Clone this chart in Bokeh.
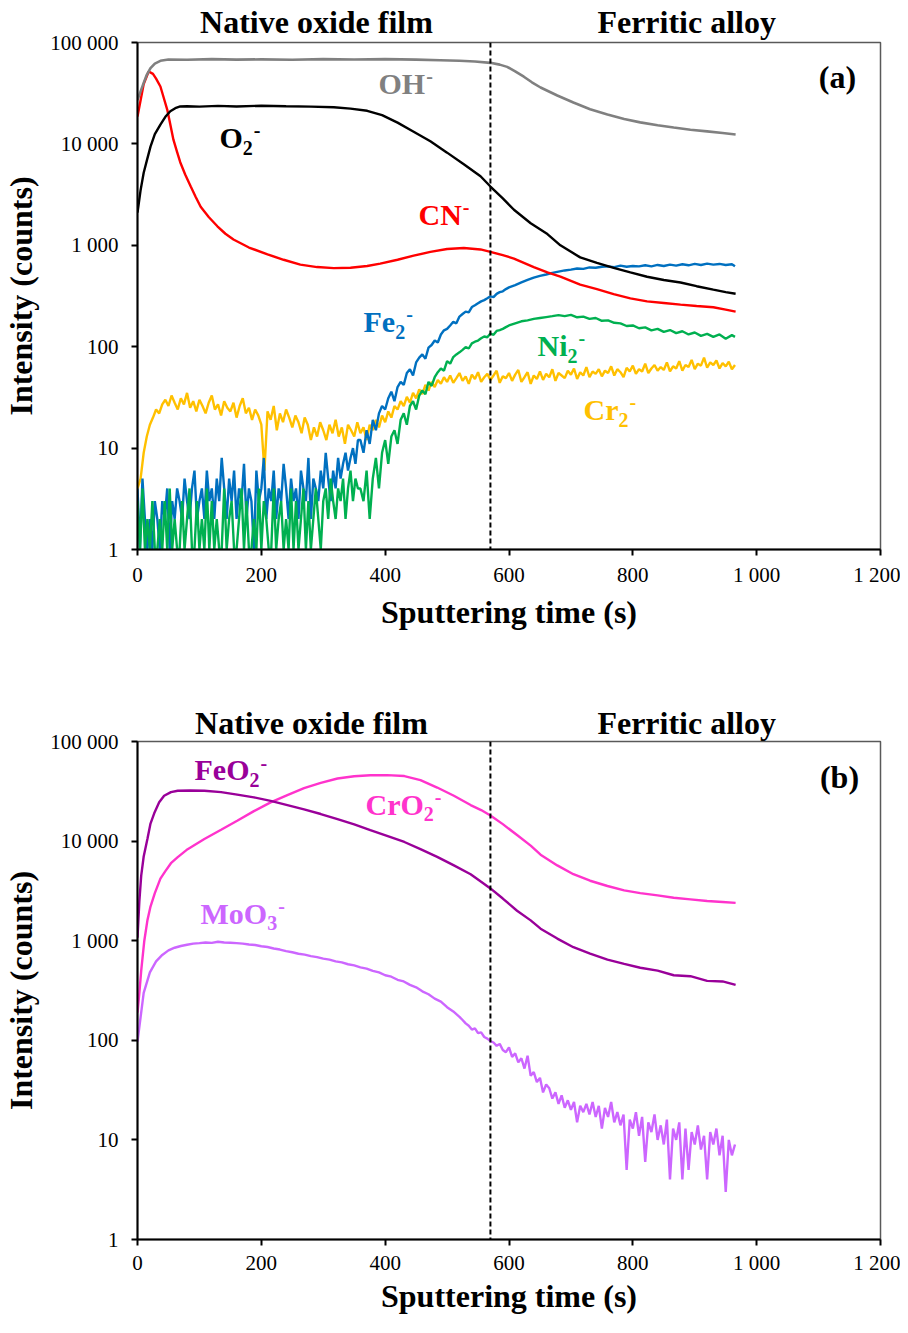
from bokeh.plotting import figure
from bokeh.models import FixedTicker, CustomJSTickFormatter, Span, Label, LinearAxis
from bokeh.layouts import column
from bokeh.embed import file_html
from bokeh.resources import INLINE

# ---------------- DATA (panel a) ----------------
boundary_t = 570
header_names = ["Native oxide film", "Ferritic alloy"]
header_t_a = [289, 887]
header_t_b = [281, 887]

t_oh = [0, 5, 10, 15, 21, 28, 37, 50, 80, 120, 160, 200, 250, 300, 350, 400, 450, 489, 520, 545,
        570, 585, 597, 610, 624, 637, 651, 678, 704, 731, 759, 786, 812, 840, 866, 893, 920, 945, 966]
oh = [27000, 33000, 40000, 48000, 56000, 62000, 66000, 68000, 67500, 68500, 67800, 68200, 67600, 68500,
      68000, 68600, 67800, 66800, 66000, 65000, 63000, 60500, 57500, 52000, 46000, 40500, 36000, 30000,
      25600, 22000, 19500, 17600, 16300, 15300, 14500, 13800, 13300, 12800, 12400]

t_o2 = [0, 5, 10, 16, 21, 28, 37, 45, 53, 61, 69, 80, 100, 130, 160, 200, 240, 280, 317, 344,
        371, 395, 420, 446, 473, 500, 527, 554, 570, 590, 608, 635, 662, 683, 715, 742, 769, 796, 823, 850,
        877, 903, 930, 950, 966]
o2 = [2100, 3500, 5200, 7200, 9400, 12500, 15500, 18500, 21000, 22500, 23400, 23500, 23300, 23700, 23400,
      23800, 23500, 23300, 23000, 22300, 21200, 19200, 16200, 13200, 10600, 8200, 6300, 4800, 3800, 2900,
      2240, 1650, 1290, 1000, 760, 670, 600, 540, 490, 455, 430, 395, 365, 345, 333]

t_cn = [0, 5, 10, 18, 25, 30, 37, 42, 48, 53, 58, 64, 69, 77, 86, 94, 102, 115, 129, 142,
        155, 180, 210, 236, 263, 290, 317, 344, 371, 392, 420, 446, 473, 500, 527, 554, 570, 590, 608, 640,
        662, 683, 715, 742, 769, 796, 823, 850, 877, 903, 930, 950, 966]
cn = [18600, 27000, 39000, 51800, 49000, 44000, 36800, 29000, 21800, 15500, 11000, 8300, 6600, 5000, 3800,
      3000, 2400, 1900, 1540, 1300, 1140, 950, 815, 720, 645, 610, 595, 600, 625, 660, 720, 790, 860, 920,
      940, 910, 860, 800, 740, 610, 540, 490, 410, 370, 330, 300, 280, 270, 260, 252, 245, 232, 222]

t_noisy = list(range(0, 360, 4)) + list(range(360, 600, 5)) + list(range(600, 961, 10)) + [965]
fe2 = [4, 1, 5, 2, 1, 2, 1, 3, 2, 1, 3, 2, 4, 1, 3, 2, 4, 3, 2, 5,
       3, 2, 4, 6, 2, 3, 4, 2, 6, 3, 4, 2, 5, 3, 8, 4, 2, 5, 3, 6,
       2, 4, 3, 7, 2, 4, 3, 1, 6, 3, 4, 8, 2, 4, 3, 6, 2, 4, 3, 7,
       4, 2, 5, 3, 4, 2, 6, 4, 3, 8, 2, 5, 4, 3, 6, 4, 9, 5, 3, 6,
       4, 8, 5, 7, 9, 6, 8, 10, 7, 12,
       12, 9, 15, 11, 19, 15, 22, 26, 24, 31, 36, 29, 40, 45, 42, 55, 60, 52, 70, 78,
       84, 76, 98, 104, 115, 110, 132, 145, 150, 162, 176, 170, 198, 210, 222, 218, 246, 256, 268, 280,
       288, 300, 314, 308, 332, 345, 352, 370,
       385, 405, 430, 455, 480, 500, 515, 535, 550, 565, 575, 590, 585, 605, 600, 615, 620, 610, 630, 615,
       625, 620, 635, 620, 640, 625, 645, 630, 650, 635, 655, 640, 660, 645, 655, 640, 650,
       620]
ni2 = [3, 1, 4, 1, 2, 1, 3, 1, 1, 2, 1, 3, 1, 4, 1, 2, 1, 1, 3, 1,
       2, 4, 1, 1, 3, 1, 2, 1, 4, 1, 3, 1, 2, 1, 1, 4, 1, 2, 3, 1,
       1, 2, 4, 1, 3, 1, 1, 2, 1, 4, 1, 3, 2, 1, 1, 4, 1, 2, 3, 1,
       2, 1, 4, 1, 3, 1, 2, 4, 1, 3, 1, 2, 4, 2, 1, 3, 4, 2, 5, 3,
       2, 4, 3, 5, 2, 4, 6, 3, 5, 4,
       4, 3, 6, 2, 5, 8, 4, 9, 12, 7, 13, 15, 11, 19, 22, 17, 26, 29, 24, 33,
       37, 34, 45, 41, 50, 56, 61, 58, 72, 68, 79, 84, 88, 93, 99, 96, 108, 112, 115, 121,
       126, 124, 135, 131, 143, 146, 150, 156,
       162, 170, 178, 182, 188, 192, 196, 200, 205, 200, 206, 195, 198, 188, 192, 180, 182, 172, 170, 160,
       162, 152, 155, 145, 150, 140, 146, 136, 142, 132, 138, 128, 134, 125, 132, 120, 130,
       125]

t_cr2 = list(range(0, 966, 5))
cr2 = [4, 5, 9, 13, 17, 20, 24, 22, 27, 30, 26, 33, 28, 24, 31, 27, 35, 25, 29, 23,
       30, 26, 22, 28, 33, 24, 27, 21, 29, 25, 23, 28, 20, 26, 31, 22, 25, 19, 24, 21,
       17, 6, 23, 19, 26, 15, 22, 18, 24, 20, 16, 21, 18, 14, 20, 17, 12, 16, 13, 18,
       15, 12, 17, 14, 19, 13, 16, 11, 17, 15, 13, 18, 14, 16, 12, 17, 15, 19, 16, 21,
       18, 23, 20, 26, 24, 29, 26, 32, 28, 35, 31, 38, 34, 42, 37, 45, 40, 47, 43, 50,
       45, 52, 44, 49, 55, 46, 51, 43, 53, 48, 56, 45, 50, 54, 47, 52, 58, 44, 51, 49,
       55, 46, 53, 59, 45, 50, 56, 43, 52, 48, 57, 47, 54, 50, 60, 46, 55, 52, 49, 58,
       53, 61, 48, 56, 52, 63, 50, 57, 54, 60, 51, 58, 55, 64, 52, 60, 56, 50, 62, 57,
       65, 54, 60, 57, 68, 55, 61, 66, 58, 63, 59, 70, 57, 64, 61, 72, 58, 66, 63, 74,
       60, 68, 65, 78, 62, 70, 66, 73, 61, 69, 64, 71, 60, 66]

# ---------------- DATA (panel b) ----------------
t_feo2 = [0, 3, 6, 10, 16, 21, 27, 35, 43, 54, 65, 85, 108, 135, 161, 188, 215, 242, 269, 296,
          323, 350, 376, 403, 431, 457, 484, 511, 538, 555, 570, 590, 613, 635, 651, 678, 704, 731, 759, 786,
          812, 840, 866, 893, 920, 945, 966]
feo2 = [1070, 2500, 4500, 7000, 10500, 15000, 19000, 24500, 28500, 31000, 32000, 32200, 32000, 31000, 29300,
        27500, 25300, 23000, 20800, 18700, 16600, 14700, 12900, 11300, 9800, 8300, 6950, 5700, 4650, 3900,
        3350, 2650, 2000, 1600, 1320, 1050, 860, 740, 645, 585, 535, 500, 450, 440, 395, 390, 360]

t_cro2 = [0, 3, 6, 11, 16, 21, 28, 37, 45, 54, 65, 81, 108, 135, 161, 188, 215, 242, 269, 296,
          323, 350, 376, 403, 431, 457, 484, 511, 538, 555, 570, 590, 613, 635, 651, 678, 704, 731, 759, 786,
          812, 840, 866, 893, 920, 945, 966]
cro2 = [190, 300, 500, 1000, 1600, 2200, 3000, 4200, 5000, 6000, 6900, 8300, 10500, 13000, 16000, 20000,
        24500, 29000, 34000, 38500, 42500, 44800, 45800, 46000, 45000, 41000, 34500, 28500, 23000, 20500,
        18100, 14800, 11500, 9000, 7300, 5700, 4650, 4000, 3540, 3200, 3000, 2850, 2700, 2600, 2500, 2450,
        2400]

t_moo3 = list(range(0, 521, 10)) + list(range(525, 966, 5))
moo3 = [97, 300, 480, 620, 720, 800, 850, 885, 910, 935, 945, 960, 950, 975, 960, 955, 945, 935, 915, 905,
        880, 865, 835, 815, 785, 765, 740, 725, 700, 685, 660, 645, 620, 605, 580, 565, 540, 525, 498, 480,
        450, 435, 405, 390, 360, 340, 310, 290, 262, 245, 215, 195, 172,
        160, 148, 140, 128, 132, 118, 120, 108, 104, 98, 95, 88, 92, 80, 76, 85, 68, 74, 60, 66,
        52, 70, 44, 48, 38, 42, 30, 36, 33, 26, 30, 23, 28, 21, 25, 20, 24, 15, 22, 19,
        23, 18, 24, 17, 22, 13, 21, 17, 24, 15, 19, 14, 18, 5, 16, 13, 19, 11, 17, 6,
        15, 12, 18, 10, 14, 9, 16, 4, 13, 10, 15, 4, 13, 5, 12, 9, 14, 8, 11, 4,
        12, 9, 13, 7, 11, 3, 10, 7, 9]

x_ticks = [0, 200, 400, 600, 800, 1000, 1200]
y_ticks = [1, 10, 100, 1000, 10000, 100000]

# ---------------- STYLE / LAYOUT ----------------
FONT = "Liberation Serif"
FRAME_L, FRAME_W, FRAME_H = 137, 743, 507
WID = {"O": 0.778, "H": 0.778, "C": 0.722, "N": 0.722, "F": 0.611, "e": 0.444, "i": 0.278,
       "r": 0.444, "M": 0.944, "o": 0.5, "2": 0.5, "3": 0.5}

num_fmt = r"return Math.round(tick).toString().replace(/\B(?=(\d{3})+(?!\d))/g, ' ');"


def make_fig(header_ticks, frame_h, top, bottom, lab_standoff, title_standoff, hdr_standoff):
    p = figure(frame_width=FRAME_W, frame_height=frame_h, x_range=(0, 1200), y_range=(1, 100000),
               y_axis_type="log", output_backend="svg", toolbar_location=None, title=None,
               min_border_left=129, min_border_right=20, min_border_top=top, min_border_bottom=bottom)
    p.xgrid.visible = False
    p.ygrid.visible = False
    p.outline_line_color = "#595959"
    p.outline_line_width = 1.5
    p.xaxis.ticker = FixedTicker(ticks=x_ticks)
    p.yaxis.ticker = FixedTicker(ticks=y_ticks)
    p.xaxis.formatter = CustomJSTickFormatter(code=num_fmt)
    p.yaxis.formatter = CustomJSTickFormatter(code=num_fmt)
    for ax in (p.xaxis, p.yaxis):
        ax.axis_line_color = "black"
        ax.axis_line_width = 2
        ax.major_tick_line_color = "black"
        ax.major_tick_line_width = 2
        ax.major_tick_in = 0
        ax.major_tick_out = 6
        ax.minor_tick_line_color = None
        ax.major_label_text_font = FONT
        ax.major_label_text_font_size = "21px"
        ax.major_label_text_color = "black"
        ax.axis_label_text_font = FONT
        ax.axis_label_text_font_style = "bold"
        ax.axis_label_text_font_size = "32px"
        ax.axis_label_text_color = "black"
    p.xaxis.major_label_standoff = lab_standoff
    p.yaxis.major_label_standoff = 13
    p.xaxis.axis_label = "Sputtering time (s)"
    p.yaxis.axis_label = "Intensity (counts)"
    p.xaxis.axis_label_standoff = title_standoff
    p.yaxis.axis_label_standoff = 8
    # headers as labels of an axis above the frame (not clipped)
    names_js = "['" + "','".join(header_names) + "']"
    hdr = LinearAxis(ticker=FixedTicker(ticks=header_ticks),
                     formatter=CustomJSTickFormatter(code=f"return tick < {boundary_t} ? {names_js}[0] : {names_js}[1];"),
                     axis_line_color=None, major_tick_line_color=None, minor_tick_line_color=None,
                     major_tick_in=0, major_tick_out=0,
                     major_label_text_font=FONT, major_label_text_font_style="bold",
                     major_label_text_font_size="32px", major_label_text_color="black",
                     major_label_standoff=hdr_standoff)
    p.add_layout(hdr, "above")
    p.add_layout(Span(location=boundary_t, dimension="height", line_color="black",
                      line_width=2, line_dash="5 3"))
    return p


def add_text(p, top, px, py, text, size, color, align="left"):
    # py is the wanted baseline (reference pixels); Bokeh centres the text box on the anchor
    py = py - 0.34 * size
    x = (px - FRAME_L) / FRAME_W * 1200
    y = 10 ** ((top + FRAME_H - py) / FRAME_H * 5)
    p.add_layout(Label(x=x, y=y, text=text, text_font=FONT, text_font_style="bold",
                       text_font_size=f"{size}px", text_color=color, text_align=align,
                       text_baseline="alphabetic"))


def add_ion(p, top, px, py, main, sub, color):
    add_text(p, top, px, py, main, 30, color)
    sx = px + sum(WID[c] for c in main) * 30
    if sub:
        add_text(p, top, sx, py + 7, sub, 20, color)
        sx += sum(WID[c] for c in sub) * 20
    add_text(p, top, sx + 1, py - 10.5, "-", 20, color)


# ---------------- PANEL A ----------------
pa = make_fig(header_t_a, FRAME_H, 41, 152, 7, 4, 3)
TA = 43
pa.line(t_cr2, cr2, line_color="#FFC000", line_width=2.4)
pa.line(t_noisy, fe2, line_color="#0070C0", line_width=2.4)
pa.line(t_noisy, ni2, line_color="#00B050", line_width=2.4)
pa.line(t_cn, cn, line_color="#FF0000", line_width=2.4)
pa.line(t_o2, o2, line_color="black", line_width=2.4)
pa.line(t_oh, oh, line_color="#808080", line_width=2.6)

add_text(pa, TA, 837, 88, "(a)", 32, "black", "center")
add_ion(pa, TA, 378, 94, "OH", None, "#808080")
add_ion(pa, TA, 219, 148, "O", "2", "black")
add_ion(pa, TA, 418, 225, "CN", None, "#FF0000")
add_ion(pa, TA, 363, 332, "Fe", "2", "#0070C0")
add_ion(pa, TA, 537, 356, "Ni", "2", "#00B050")
add_ion(pa, TA, 583, 420, "Cr", "2", "#FFC000")

# ---------------- PANEL B ----------------
pb = make_fig(header_t_b, 498, 35, 0, 5, 0, 1)
TB = 743
pb.line(t_moo3, moo3, line_color="#CC66FF", line_width=2.4)
pb.line(t_cro2, cro2, line_color="#FF33CC", line_width=2.4)
pb.line(t_feo2, feo2, line_color="#990099", line_width=2.4)

add_text(pb, TB, 839, 790, "(b)", 32, "black", "center")
add_ion(pb, TB, 194, 782, "FeO", "2", "#990099")
add_ion(pb, TB, 365, 817, "CrO", "2", "#FF33CC")
add_ion(pb, TB, 200, 928, "MoO", "3", "#CC66FF")

layout = column(pa, pb, spacing=0)
open("out.html", "w").write(file_html(layout, INLINE))
